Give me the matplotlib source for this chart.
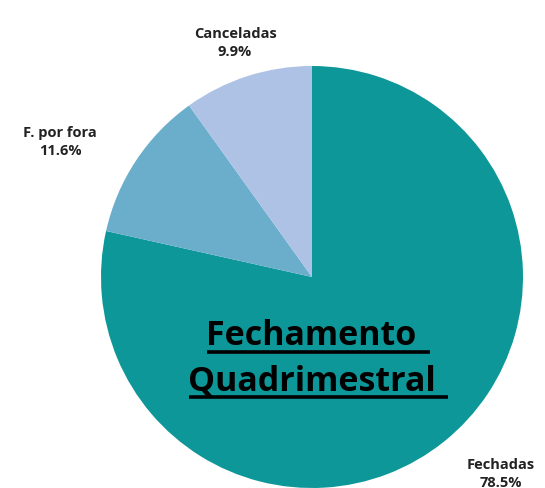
import matplotlib.pyplot as plt

# Dados
categorias = ['Fechadas', 'F. por fora', 'Canceladas']
valores = [78.5, 11.6, 9.9]
cores = ['#0e9799', '#6aaecb', '#adc2e4']
titulo = ['Fechamento ', 'Quadrimestral ']

plt.rcParams['font.family'] = ['Open Sans', 'DejaVu Sans']

fig = plt.figure(figsize=(5.45, 4.89), dpi=100)
ax = fig.add_axes([0, 0, 1, 1])

# Pizza (sentido horário a partir do topo; eixo y invertido)
ax.pie(valores, colors=cores, startangle=-90, counterclock=True,
       center=(312, 278), radius=211, frame=True)
ax.set_xlim(0, 545)
ax.set_ylim(489, 0)
ax.set_aspect('equal')
ax.axis('off')

# Rótulos
pos_rotulos = [(501, 474), (60, 142), (235, 43)]
for cat, v, (x, y) in zip(categorias, valores, pos_rotulos):
    ax.text(x, y, f'{cat}\n{v:.1f}%', ha='center', va='center',
            fontsize=10.5, fontweight='bold', color='#222222', linespacing=1.45)

# Título sublinhado
fig.canvas.draw()
renderer = fig.canvas.get_renderer()
for linha, y in zip(titulo, [336, 381]):
    t = ax.text(316, y, linha, ha='center', va='center', fontsize=24.5,
                fontweight='bold', color='black')
    bb = t.get_window_extent(renderer=renderer)
    inv = ax.transData.inverted()
    (x0, _), (x1, _) = inv.transform([(bb.x0, bb.y0), (bb.x1, bb.y0)])
    ax.plot([x0 + 1, x1 + 4], [y + 17, y + 17], color='black', lw=2.6,
            solid_capstyle='butt')

plt.savefig('out.png', dpi=100)
